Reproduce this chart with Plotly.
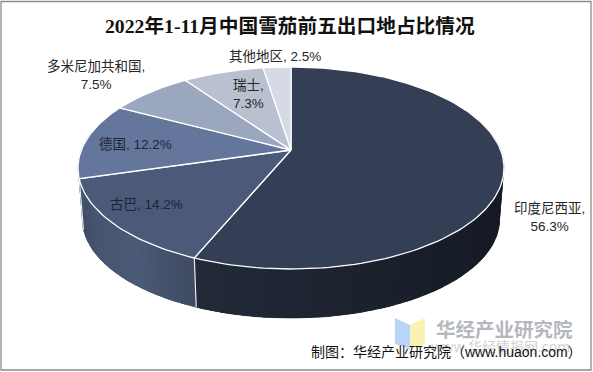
import math
import plotly.graph_objects as go

TITLE = "2022年1-11月中国雪茄前五出口地占比情况"
SOURCE = "制图：华经产业研究院（www.huaon.com）"
WATERMARK = "华经产业研究院"
WATERMARK_SUB = "www.华经情报网.com"

categories = ["印度尼西亚", "古巴", "德国", "多米尼加共和国", "瑞士", "其他地区"]
shares = [56.3, 14.2, 12.2, 7.5, 7.3, 2.5]
top_colors = ["#343f55", "#4a5a78", "#64769c", "#9ba7bf", "#b9c1d1", "#d5dae5"]
# wall shading per slice: rim colours from the slice's start to its end
wall_stops = [
    ["#171c27", "#151a24", "#1b212d", "#222a38"],
    ["#3e4b62", "#4a5a76", "#465570", "#3d4a60"],
    ["#46556f", "#46556f"],
    ["#7a88a4", "#7a88a4"],
    ["#8f99ad", "#8f99ad"],
    ["#a5adbd", "#a5adbd"],
]
label_pos = {
    "印度尼西亚": (549, 217, "印度尼西亚,<br>56.3%", "#262626"),
    "古巴": (146, 204, "古巴, 14.2%", "#1c2536"),
    "德国": (135, 144, "德国, 12.2%", "#1c2536"),
    "多米尼加共和国": (96, 75, "多米尼加共和国,<br>7.5%", "#262626"),
    "瑞士": (248, 94, "瑞士,<br>7.3%", "#262626"),
    "其他地区": (275, 56, "其他地区, 2.5%", "#262626"),
}

# perspective projection of the unit disc
CX, CY, A, B, P = 291.0, 150.0, 97.8, 209.6, 0.178
SCALE, DROP = 0.98, 51.5


def top(theta):
    u, v = math.sin(theta), math.cos(theta)
    w = 1 + P * v
    return CX + B * u / w, CY - A * v / w


def bottom(theta):
    x, y = top(theta)
    return CX + (x - CX) * SCALE, CY + (y - CY) * SCALE + DROP


def hex2rgb(h):
    return [int(h[i:i + 2], 16) for i in (1, 3, 5)]


def blend(stops, t):
    pos = t * (len(stops) - 1)
    i = min(int(pos), len(stops) - 2)
    f = pos - i
    a, b = hex2rgb(stops[i]), hex2rgb(stops[i + 1])
    return "rgb(%d,%d,%d)" % tuple(round(a[k] + (b[k] - a[k]) * f) for k in range(3))


def arc(fn, a, b, step=math.radians(1.5)):
    n = max(2, int(abs(b - a) / step) + 1)
    return [fn(a + (b - a) * i / n) for i in range(n + 1)]


fig = go.Figure()


def poly(points, fill, line, width):
    fig.add_trace(go.Scatter(
        x=[p[0] for p in points], y=[p[1] for p in points],
        mode="lines", fill="toself", fillcolor=fill,
        line=dict(color=line, width=width), hoverinfo="skip", showlegend=False,
    ))


edges = []
acc = 0.0
for s in shares:
    edges.append((acc / 100 * 2 * math.pi, (acc + s) / 100 * 2 * math.pi))
    acc += s

# side walls: one solid underlay per slice, then shading strips on top
for (a, b), stops in zip(edges, wall_stops):
    lo, hi = max(a, math.radians(80)), min(b, math.radians(280))
    if lo >= hi:
        continue
    base = blend(stops, 0.5)
    outline = arc(top, lo, hi) + arc(bottom, hi, lo)
    poly(outline + [outline[0]], base, base, 0.5)
    n = max(2, int(math.degrees(hi - lo) / 2.5))
    # overlap each strip into the next so no seam shows
    for i in range(n):
        t0 = lo + (hi - lo) * i / n
        t1 = lo + (hi - lo) * min(i + 1.6, n) / n
        c = blend(stops, (i + 0.5) / n)
        poly(arc(top, t0, t1) + arc(bottom, t1, t0) + [top(t0)], c, c, 0)

# dividers on the wall
for a, b in edges:
    if math.radians(100) < b < math.radians(260):
        p, q = top(b), bottom(b)
        fig.add_trace(go.Scatter(x=[p[0], q[0]], y=[p[1], q[1]], mode="lines",
                                 line=dict(color="#e6e9ee", width=1.2),
                                 hoverinfo="skip", showlegend=False))

# top faces
for (a, b), c in zip(edges, top_colors):
    pts = [(CX, CY)] + arc(top, a, b) + [(CX, CY)]
    poly(pts, c, "#ffffff", 1.3)

for name in categories:
    x, y, text, col = label_pos[name]
    fig.add_annotation(x=x, y=y, xref="x", yref="y", text=text, showarrow=False,
                       font=dict(family="Liberation Sans, Noto Sans CJK SC", size=13.5, color=col),
                       align="center", xanchor="center", yanchor="middle")

fig.add_annotation(x=290, y=25.5, xref="x", yref="y", text="<b>%s</b>" % TITLE, showarrow=False,
                   font=dict(family="Liberation Serif, Noto Sans CJK SC", size=19.7, color="#111111"),
                   xanchor="center", yanchor="middle")

# watermark
fig.add_shape(type="path", path="M395,318 L410,325 L410,349 L395,344 Z",
              fillcolor="#b9d5f5", line=dict(width=0), layer="below")
fig.add_shape(type="path", path="M410,325 L425,318 L425,344 L410,349 Z",
              fillcolor="#fbf1b4", line=dict(width=0), layer="below")
fig.add_annotation(x=504, y=328, xref="x", yref="y", text="<b>%s</b>" % WATERMARK, showarrow=False,
                   font=dict(family="Noto Sans CJK SC", size=19.5, color="#b4b8bd"),
                   xanchor="center", yanchor="middle")
fig.add_annotation(x=500, y=346, xref="x", yref="y", text=WATERMARK_SUB, showarrow=False,
                   font=dict(family="Noto Sans CJK SC", size=14, color="#d0d2d4"),
                   xanchor="center", yanchor="middle")

fig.add_annotation(x=309, y=352, xref="x", yref="y", text=SOURCE, showarrow=False,
                   font=dict(family="Liberation Sans, Noto Sans CJK SC", size=14, color="#111111"),
                   xanchor="left", yanchor="middle")

# frame
fig.add_shape(type="rect", x0=1, y0=1.5, x1=591, y1=370,
              line=dict(color="#8c8c8c", width=1.3), fillcolor="rgba(0,0,0,0)")

fig.update_layout(
    width=593, height=372, margin=dict(l=0, r=0, t=0, b=0),
    paper_bgcolor="white", plot_bgcolor="white", showlegend=False,
    xaxis=dict(range=[0, 593], visible=False, fixedrange=True),
    yaxis=dict(range=[372, 0], visible=False, fixedrange=True),
)
fig.write_html("out.html", config={"displayModeBar": False},
               post_script="document.body.style.margin='0';document.body.style.overflow='hidden';")
